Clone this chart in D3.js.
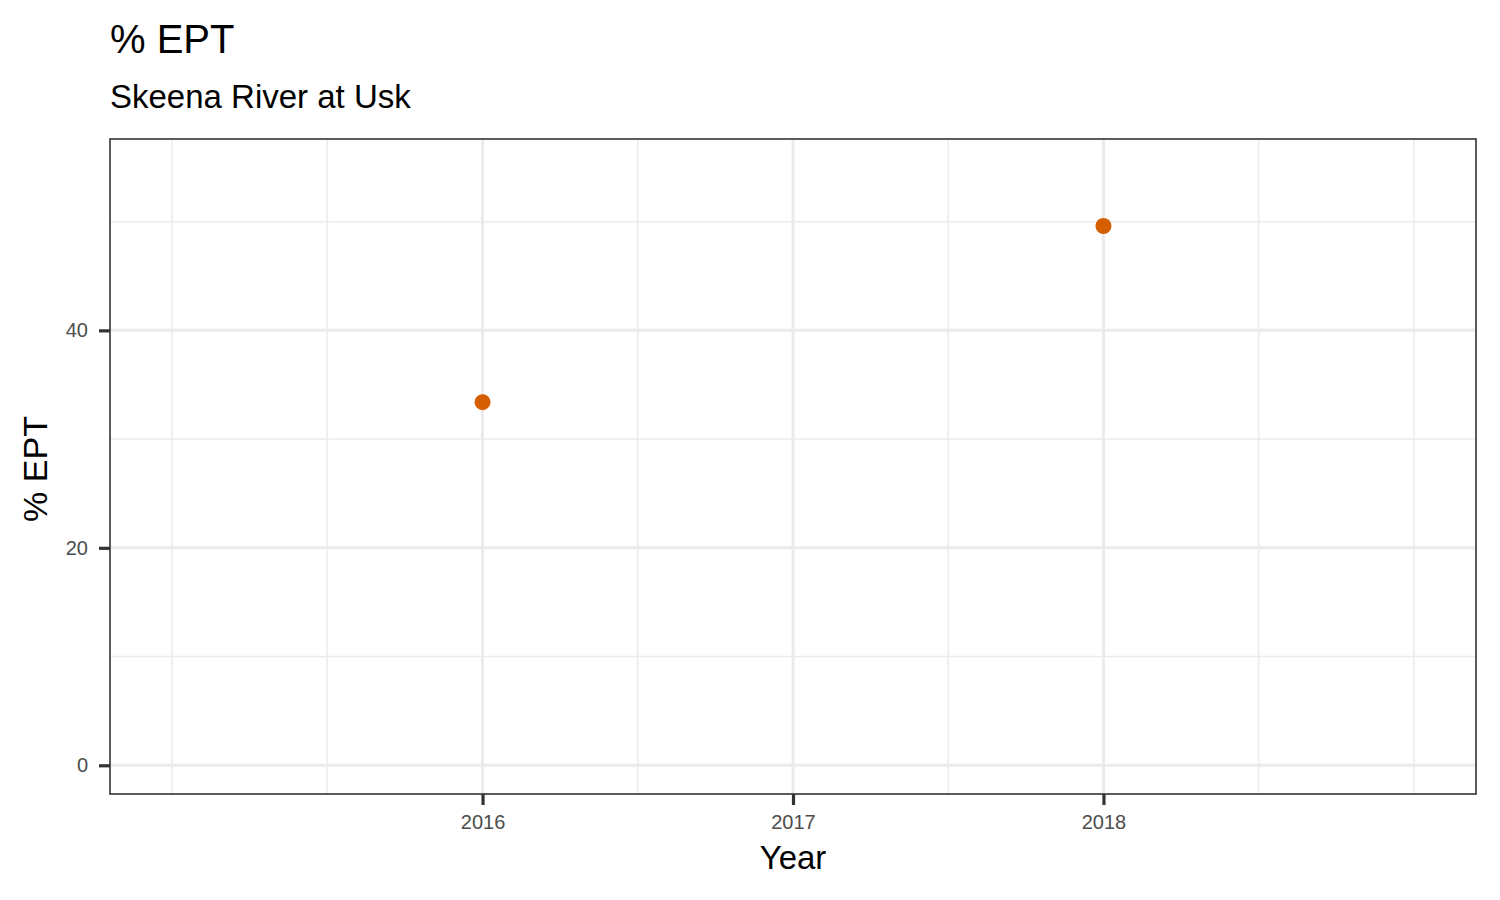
<!DOCTYPE html>
<html>
<head>
<meta charset="utf-8">
<script src="https://cdn.jsdelivr.net/npm/d3@7"></script>
<style>
  body { margin: 0; background: #fff; }
  svg { font-family: "Liberation Sans", Arial, Helvetica, sans-serif; }
</style>
</head>
<body>
<div id="chart"></div>
<script>
// data
const years = [2016, 2018];
const eptValues = [33.4, 49.6];
const xBreaks = [2016, 2017, 2018];
const xMinor = [2015, 2015.5, 2016.5, 2017.5, 2018.5, 2019];
const yBreaks = [0, 20, 40];
const yMinor = [10, 30, 50];

const width = 1500, height = 900;
const margin = { left: 110, right: 24, top: 139, bottom: 106 };
const plotW = width - margin.left - margin.right;
const plotH = height - margin.top - margin.bottom;

const xScale = d3.scaleLinear().domain([2014.8, 2019.2]).range([0, plotW]);
const yScale = d3.scaleLinear().domain([-2.64, 57.6]).range([plotH, 0]);

const svg = d3.select("#chart").append("svg")
  .attr("width", width)
  .attr("height", height);

const g = svg.append("g")
  .attr("transform", "translate(" + [margin.left, margin.top] + ")");

// minor grid
g.selectAll(".xminor").data(xMinor).enter().append("line")
  .attr("x1", d => xScale(d)).attr("x2", d => xScale(d))
  .attr("y1", 0).attr("y2", plotH)
  .attr("stroke", "#ebebeb").attr("stroke-width", 1.5);
g.selectAll(".yminor").data(yMinor).enter().append("line")
  .attr("y1", d => yScale(d)).attr("y2", d => yScale(d))
  .attr("x1", 0).attr("x2", plotW)
  .attr("stroke", "#ebebeb").attr("stroke-width", 1.5);

// major grid
g.selectAll(".xmajor").data(xBreaks).enter().append("line")
  .attr("x1", d => xScale(d)).attr("x2", d => xScale(d))
  .attr("y1", 0).attr("y2", plotH)
  .attr("stroke", "#ebebeb").attr("stroke-width", 3);
g.selectAll(".ymajor").data(yBreaks).enter().append("line")
  .attr("y1", d => yScale(d)).attr("y2", d => yScale(d))
  .attr("x1", 0).attr("x2", plotW)
  .attr("stroke", "#ebebeb").attr("stroke-width", 3);

// points
g.selectAll("circle").data(years).enter().append("circle")
  .attr("cx", d => xScale(d))
  .attr("cy", (d, i) => yScale(eptValues[i]))
  .attr("r", 8)
  .attr("fill", "#d55e00");

// panel border
g.append("rect")
  .attr("width", plotW).attr("height", plotH)
  .attr("fill", "none").attr("stroke", "#333").attr("stroke-width", 1.6);

// axes
const xAxis = d3.axisBottom(xScale).tickValues(xBreaks).tickFormat(d3.format("d"))
  .tickSize(11).tickPadding(10);
const yAxis = d3.axisLeft(yScale).tickValues(yBreaks).tickSize(11).tickPadding(11);

const gx = g.append("g").attr("transform", "translate(0," + plotH + ")").call(xAxis);
const gy = g.append("g").call(yAxis);
[gx, gy].forEach(a => {
  a.select(".domain").remove();
  a.selectAll(".tick line").attr("stroke", "#333").attr("stroke-width", 3.2);
  a.selectAll(".tick text").attr("fill", "#4d4d4d")
    .style("font-size", "20px").style("font-family", "inherit");
});

// titles
svg.append("text").attr("x", 110).attr("y", 53)
  .style("font-size", "40px").attr("fill", "#000").text("% EPT");
svg.append("text").attr("x", 110).attr("y", 108)
  .style("font-size", "33px").attr("fill", "#000").text("Skeena River at Usk");

svg.append("text")
  .attr("x", margin.left + plotW / 2).attr("y", 869)
  .attr("text-anchor", "middle")
  .style("font-size", "33px").text("Year");

svg.append("text")
  .attr("transform", "translate(" + [47, 469] + ") rotate(-90)")
  .attr("text-anchor", "middle")
  .style("font-size", "34px").text("% EPT");
</script>
</body>
</html>
